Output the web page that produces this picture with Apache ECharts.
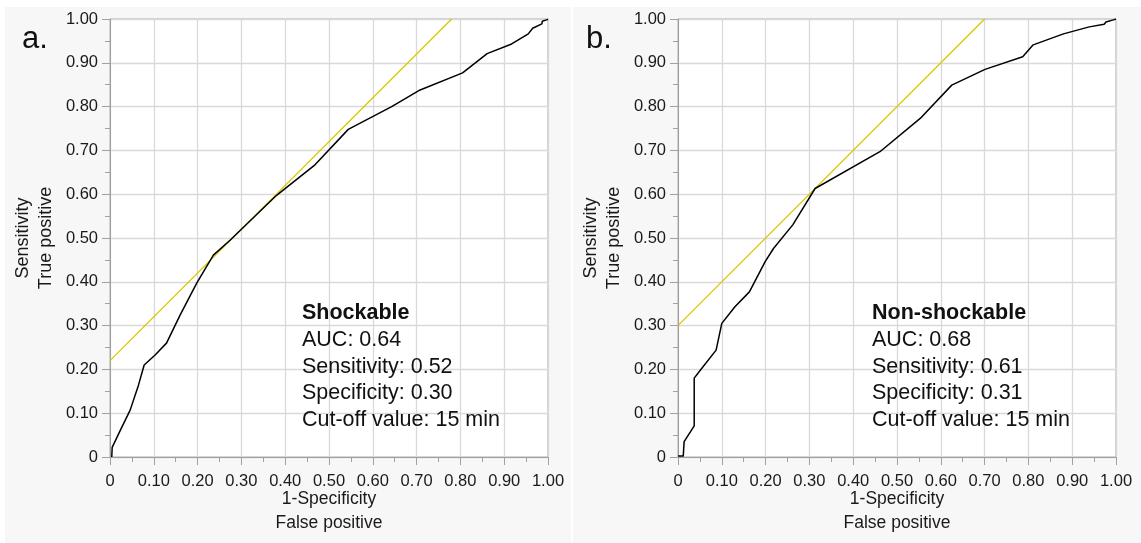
<!DOCTYPE html>
<html>
<head>
<meta charset="utf-8">
<script src="https://cdn.jsdelivr.net/npm/echarts@6/dist/echarts.min.js"></script>
<style>
html,body{margin:0;padding:0;background:#ffffff;}
#chart{width:1141px;height:543px;}
</style>
</head>
<body>
<div id="chart"></div>
<script>
// ---- Data ----
const shockFpr = [0.004, 0.005, 0.024, 0.046, 0.065, 0.078, 0.103, 0.129, 0.160, 0.198, 0.236, 0.274, 0.300, 0.381, 0.468, 0.544, 0.643, 0.708, 0.805, 0.861, 0.917, 0.955, 0.965, 0.986, 0.987, 0.997, 1.000];
const shockTpr = [0.000, 0.022, 0.062, 0.107, 0.164, 0.210, 0.233, 0.260, 0.324, 0.397, 0.461, 0.495, 0.520, 0.598, 0.667, 0.748, 0.800, 0.838, 0.877, 0.921, 0.943, 0.966, 0.979, 0.989, 0.995, 0.998, 1.000];
const shockTanX = [0, 0.78];
const shockTanY = [0.22, 1.00];

const nonFpr = [0.000, 0.012, 0.014, 0.037, 0.037, 0.054, 0.087, 0.100, 0.130, 0.163, 0.199, 0.218, 0.262, 0.313, 0.461, 0.553, 0.625, 0.701, 0.787, 0.811, 0.880, 0.939, 0.973, 0.977, 0.994, 1.000];
const nonTpr = [0.002, 0.002, 0.035, 0.071, 0.180, 0.202, 0.244, 0.305, 0.343, 0.377, 0.446, 0.476, 0.530, 0.613, 0.697, 0.773, 0.849, 0.885, 0.914, 0.941, 0.966, 0.982, 0.988, 0.993, 0.998, 1.000];
const nonTanX = [0, 0.70];
const nonTanY = [0.30, 1.00];

const panelLetters = ['a.', 'b.'];
const panelTitles = ['Shockable', 'Non-shockable'];
const panelStats = [
  ['AUC: 0.64', 'Sensitivity: 0.52', 'Specificity: 0.30', 'Cut-off value: 15 min'],
  ['AUC: 0.68', 'Sensitivity: 0.61', 'Specificity: 0.31', 'Cut-off value: 15 min']
];
const xAxisName = '1-Specificity\nFalse positive';
const yAxisName = 'Sensitivity\nTrue positive';

// ---- Chart ----
const FONT = '"Liberation Sans", Arial, Helvetica, sans-serif';
const chart = echarts.init(document.getElementById('chart'), null, {renderer: 'canvas'});

function zip(xs, ys){ return xs.map((x,i)=>[x, ys[i]]); }
function tickFmt(v){ return v === 0 ? '0' : v.toFixed(2); }

const grids = [
  {left: 110, top: 19, width: 438, height: 438},
  {left: 678, top: 19, width: 438, height: 438}
].map(g => Object.assign(g, {show: true, containLabel: false, outerBoundsMode: 'none', backgroundColor: '#ffffff', borderColor: '#a8a8a8', borderWidth: 1}));

function xAxis(i){
  return {
    gridIndex: i, type: 'value', min: 0, max: 1, interval: 0.1,
    name: xAxisName, nameLocation: 'middle', nameGap: 30, nameMoveOverlap: false,
    nameTextStyle: {fontFamily: FONT, fontSize: 17.5, color: '#1a1a1a', lineHeight: 24},
    axisLine: {show: true, lineStyle: {color: '#a0a0a0', width: 1}},
    axisTick: {show: true, length: 8, lineStyle: {color: '#a0a0a0'}},
    minorTick: {show: true, splitNumber: 2, length: 5, lineStyle: {color: '#a0a0a0'}},
    splitLine: {show: true, lineStyle: {color: '#d9d9d9', width: 1.3}},
    axisLabel: {formatter: tickFmt, fontFamily: FONT, fontSize: 16.5, color: '#1a1a1a', margin: 16, showMaxLabel: true, showMinLabel: true}
  };
}
function yAxis(i){
  return {
    gridIndex: i, type: 'value', min: 0, max: 1, interval: 0.1,
    name: yAxisName, nameLocation: 'middle', nameGap: 52,
    nameTextStyle: {fontFamily: FONT, fontSize: 18, color: '#1a1a1a', lineHeight: 23},
    axisLine: {show: true, lineStyle: {color: '#a0a0a0', width: 1}},
    axisTick: {show: true, length: 8, lineStyle: {color: '#a0a0a0'}},
    minorTick: {show: true, splitNumber: 2, length: 5, lineStyle: {color: '#a0a0a0'}},
    splitLine: {show: true, lineStyle: {color: '#d9d9d9', width: 1.3}},
    axisLabel: {formatter: tickFmt, fontFamily: FONT, fontSize: 16.5, color: '#1a1a1a', margin: 12, showMaxLabel: true, showMinLabel: true}
  };
}

function lineSeries(i, data, color, width){
  return {
    type: 'line', xAxisIndex: i, yAxisIndex: i, data: data,
    showSymbol: false, symbol: 'none', smooth: false, silent: true,
    lineStyle: {color: color, width: width}, z: color === '#000000' ? 3 : 2,
    animation: false
  };
}

const graphics = [
  {type: 'rect', shape: {x: 5, y: 7, width: 566, height: 536}, style: {fill: '#f7f7f7'}, z: -10, silent: true},
  {type: 'rect', shape: {x: 573, y: 7, width: 568, height: 536}, style: {fill: '#f7f7f7'}, z: -10, silent: true}
];
const letterX = [22, 586];
const statX = [302, 872];
for (let i = 0; i < 2; i++){
  graphics.push({type: 'text', left: letterX[i], top: 24, z: 10,
    style: {text: panelLetters[i], font: '31px ' + FONT, fill: '#111111'}});
  graphics.push({type: 'text', left: statX[i], top: 302, z: 10,
    style: {text: panelTitles[i], font: 'bold 21.5px ' + FONT, fill: '#111111'}});
  graphics.push({type: 'text', left: statX[i], top: 327, z: 10,
    style: {text: panelStats[i].join('\n'), font: '21.5px ' + FONT, lineHeight: 26.5, fill: '#111111'}});
}

chart.setOption({
  animation: false,
  backgroundColor: '#ffffff',
  grid: grids,
  xAxis: [xAxis(0), xAxis(1)],
  yAxis: [yAxis(0), yAxis(1)],
  series: [
    lineSeries(0, zip(shockTanX, shockTanY), '#d8c800', 1.3),
    lineSeries(0, zip(shockFpr, shockTpr), '#000000', 1.5),
    lineSeries(1, zip(nonTanX, nonTanY), '#d8c800', 1.3),
    lineSeries(1, zip(nonFpr, nonTpr), '#000000', 1.5)
  ],
  graphic: graphics
});
</script>
</body>
</html>
